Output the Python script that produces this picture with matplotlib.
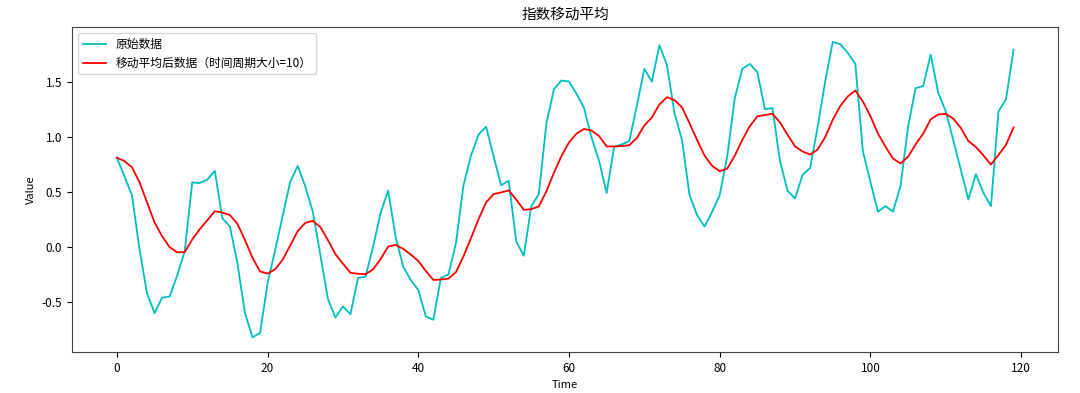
import numpy as np
import pandas as pd
import matplotlib
matplotlib.use("Agg")
import matplotlib.pyplot as plt

plt.rcParams['font.family'] = ['Noto Sans CJK SC', 'DejaVu Sans']
plt.rcParams['axes.unicode_minus'] = False

# raw series
time = np.arange(120)
raw = [0.81, 0.64, 0.47, -0.02, -0.42, -0.60, -0.46, -0.45, -0.26, -0.04,
       0.585, 0.58, 0.61, 0.69, 0.26, 0.185, -0.15, -0.60, -0.82, -0.78,
       -0.33, -0.03, 0.28, 0.59, 0.735, 0.55, 0.32, -0.07, -0.47, -0.64,
       -0.54, -0.61, -0.28, -0.27, 0.0, 0.31, 0.51, 0.09, -0.18, -0.30,
       -0.39, -0.63, -0.66, -0.28, -0.25, 0.035, 0.56, 0.83, 1.02, 1.09,
       0.82, 0.56, 0.60, 0.05, -0.08, 0.37, 0.48, 1.12, 1.43, 1.51,
       1.50, 1.39, 1.26, 0.99, 0.78, 0.49, 0.91, 0.93, 0.96, 1.28,
       1.615, 1.50, 1.83, 1.65, 1.215, 0.97, 0.47, 0.29, 0.185, 0.32,
       0.47, 0.82, 1.35, 1.615, 1.66, 1.585, 1.25, 1.26, 0.78, 0.51,
       0.44, 0.655, 0.715, 1.09, 1.50, 1.86, 1.84, 1.76, 1.66, 0.87,
       0.59, 0.32, 0.37, 0.32, 0.555, 1.09, 1.44, 1.46, 1.745, 1.40,
       1.23, 0.97, 0.70, 0.43, 0.66, 0.49, 0.37, 1.23, 1.34, 1.79]
span = 10

ema = pd.Series(raw).ewm(span=span, adjust=False).mean()

fig = plt.figure(figsize=(10.8, 3.93), dpi=100)
ax = fig.add_axes([0.0667, 0.104, 0.9133, 0.827])

ax.plot(time, raw, color='c', lw=1.3, label='原始数据')
ax.plot(time, ema, color='r', lw=1.3, label=f'移动平均后数据（时间周期大小={span}）')

ax.set_title('指数移动平均', fontsize=10.5)
ax.set_xlabel('Time', fontsize=8)
ax.set_ylabel('Value', fontsize=8)
ax.tick_params(labelsize=8.5)
for s in ax.spines.values():
    s.set_color('#444444')
ax.legend(loc='upper left', fontsize=8.5)

fig.savefig('out.png', dpi=100)
